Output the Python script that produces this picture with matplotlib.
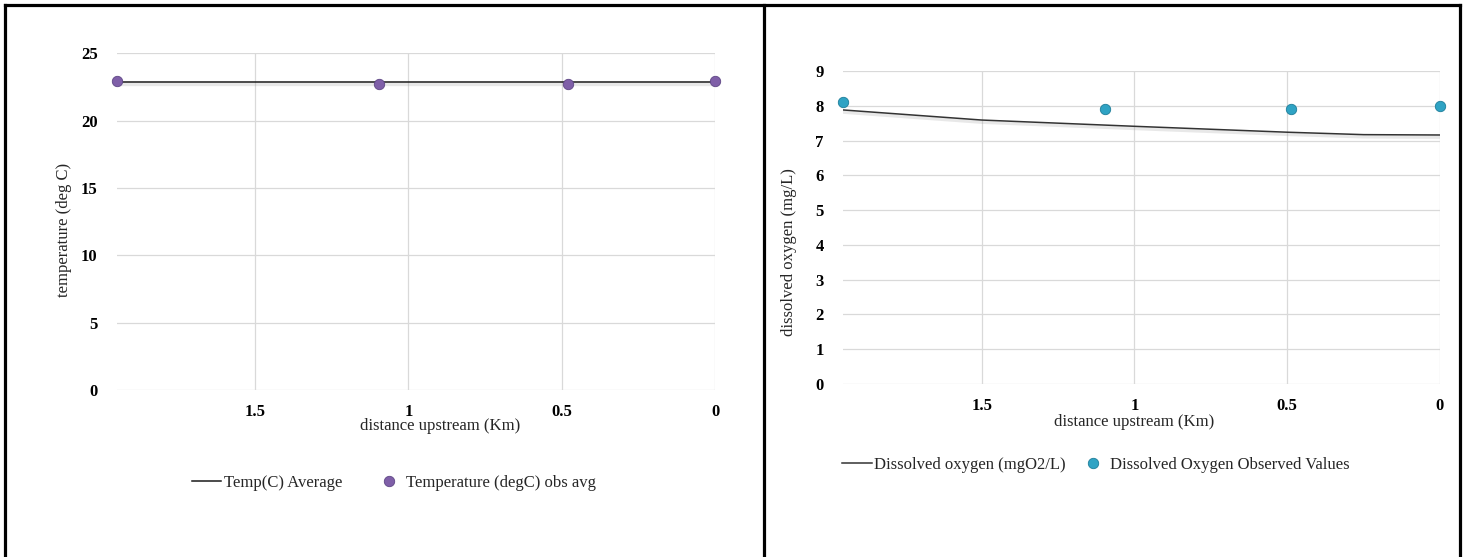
import matplotlib
matplotlib.use("Agg")
import matplotlib.pyplot as plt
import matplotlib.patheffects as pe
from matplotlib.lines import Line2D

# ---------------- data ----------------
temp_line_km = [1.95, 1.5, 1.0, 0.5, 0.0]
temp_line_val = [22.85, 22.85, 22.85, 22.85, 22.85]
temp_obs_km = [1.95, 1.095, 0.48, 0.0]
temp_obs_val = [22.92, 22.74, 22.69, 22.92]

do_line_km = [1.954, 1.5, 1.0, 0.5, 0.25, 0.0]
do_line_val = [7.88, 7.59, 7.41, 7.24, 7.17, 7.16]
do_obs_km = [1.954, 1.095, 0.487, 0.0]
do_obs_val = [8.11, 7.90, 7.90, 8.00]

x_ticks = [1.5, 1.0, 0.5, 0.0]
x_tick_labels = ["1.5", "1", "0.5", "0"]
temp_y_ticks = [0, 5, 10, 15, 20, 25]
do_y_ticks = [0, 1, 2, 3, 4, 5, 6, 7, 8, 9]

# ---------------- figure ----------------
W, H = 1467, 557
DPI = 100
fig = plt.figure(figsize=(W / DPI, H / DPI), dpi=DPI)
fig.patch.set_facecolor("white")
SERIF = ["Liberation Serif", "DejaVu Serif"]


def px_axes(x0, y0, x1, y1):
    return fig.add_axes([x0 / W, 1 - y1 / H, (x1 - x0) / W, (y1 - y0) / H])


def fx(x):
    return x / W


def fy(y):
    return 1 - y / H


# panel borders
for (xa, ya, xb, yb) in [(5, 5, 1460, 5), (5, 5, 5, 557), (764, 5, 764, 557), (1460, 5, 1460, 557)]:
    fig.add_artist(Line2D([fx(xa), fx(xb)], [fy(ya), fy(yb)], color="black", lw=2.3,
                          solid_capstyle="projecting"))

shadow = [pe.SimpleLineShadow(offset=(0, -1.6), shadow_color="#9a9a9a", alpha=0.22, linewidth=2.4),
          pe.Normal()]


def style_axes(ax, xmax, ymax, yticks):
    ax.set_xlim(xmax, 0)
    ax.set_ylim(0, ymax)
    ax.set_xticks(x_ticks)
    ax.set_xticklabels(x_tick_labels)
    ax.set_yticks(yticks)
    ax.grid(True, color="#d9d9d9", lw=0.9)
    ax.set_axisbelow(True)
    for s in ax.spines.values():
        s.set_visible(False)
    ax.tick_params(length=0, labelsize=12, pad=10)
    ax.tick_params(axis="y", pad=14)
    for lab in ax.get_xticklabels() + ax.get_yticklabels():
        lab.set_fontfamily(SERIF)
        lab.set_fontweight("bold")
        lab.set_color("black")


# ---------------- left: temperature ----------------
ax1 = px_axes(117, 53.3, 715, 390)
style_axes(ax1, 1.95, 25, temp_y_ticks)
l1, = ax1.plot(temp_line_km, temp_line_val, color="#1a1a1a", lw=1.1, path_effects=shadow,
               label="Temp(C) Average", zorder=3)
m1, = ax1.plot(temp_obs_km, temp_obs_val, ls="none", marker="o", ms=7.5, mfc="#7f5fa8",
               mec="#5e4685", mew=0.6, label="Temperature (degC) obs avg", clip_on=False, zorder=4)
fig.text(fx(440), fy(426), "distance upstream (Km)", family=SERIF, fontsize=12,
         ha="center", va="center", color="#262626")
fig.text(fx(64), fy(230), "temperature (deg C)", family=SERIF, fontsize=12,
         ha="center", va="center", rotation=90, color="#262626")
leg1 = fig.legend(handles=[Line2D([], [], color="#1a1a1a", lw=1.1), m1],
                  labels=["Temp(C) Average", "Temperature (degC) obs avg"],
                  loc="center", bbox_to_anchor=(fx(394), fy(483)), ncol=2,
                  frameon=False, prop={"family": SERIF, "size": 12}, handlelength=1.75,
                  handletextpad=0.15, columnspacing=1.9, borderpad=0, borderaxespad=0)
for t in leg1.get_texts():
    t.set_color("#262626")

# ---------------- right: dissolved oxygen ----------------
ax2 = px_axes(843, 71, 1440, 384)
style_axes(ax2, 1.954, 9, do_y_ticks)
l2, = ax2.plot(do_line_km, do_line_val, color="#333333", lw=1.1, path_effects=shadow,
               label="Dissolved oxygen (mgO2/L)", zorder=3)
m2, = ax2.plot(do_obs_km, do_obs_val, ls="none", marker="o", ms=7.5, mfc="#2fa3c4",
               mec="#1d7d99", mew=0.6, label="Dissolved Oxygen Observed Values", clip_on=False,
               zorder=4)
fig.text(fx(1134), fy(422), "distance upstream (Km)", family=SERIF, fontsize=12,
         ha="center", va="center", color="#262626")
fig.text(fx(789), fy(252), "dissolved oxygen (mg/L)", family=SERIF, fontsize=12,
         ha="center", va="center", rotation=90, color="#262626")
leg2 = fig.legend(handles=[Line2D([], [], color="#333333", lw=1.1), m2],
                  labels=["Dissolved oxygen (mgO2/L)", "Dissolved Oxygen Observed Values"],
                  loc="center", bbox_to_anchor=(fx(1096), fy(465)), ncol=2,
                  frameon=False, prop={"family": SERIF, "size": 12}, handlelength=1.75,
                  handletextpad=0.15, columnspacing=0.75, borderpad=0, borderaxespad=0)
for t in leg2.get_texts():
    t.set_color("#262626")

fig.savefig("out.png", dpi=DPI, facecolor="white")
